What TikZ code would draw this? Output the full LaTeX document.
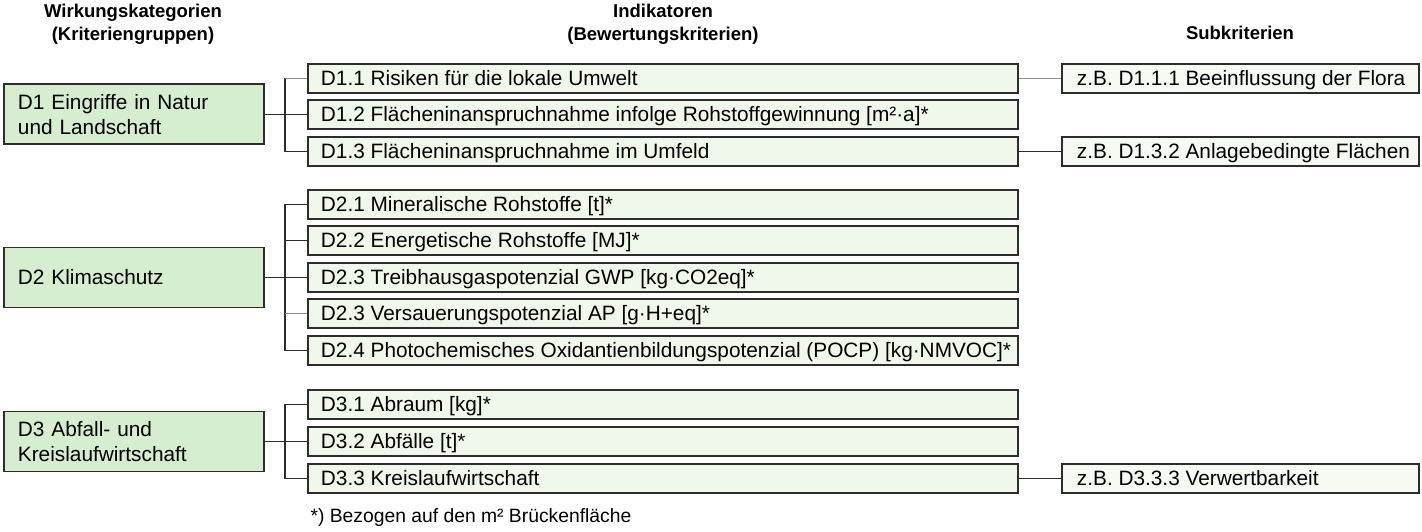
\documentclass[tikz,border=0pt]{standalone}
\usepackage{fontspec}
\setmainfont{Liberation Sans}
\definecolor{catfill}{RGB}{214,237,207}
\definecolor{indfill}{RGB}{239,248,235}
\definecolor{subfill}{RGB}{245,250,242}
\definecolor{boxline}{RGB}{45,45,45}
\begin{document}
\begin{tikzpicture}[x=1pt, y=-1pt]
    \tikzstyle{every node}=[inner ysep=0pt, font=\fontsize{20.8}{24.5}\selectfont]
    \tikzstyle{kopf}=[align=center, font=\bfseries\fontsize{18.5}{23}\selectfont]
    \tikzstyle{kategorie}=[anchor=north west, align=left, text width=232pt,
				inner xsep=14pt, minimum height=60pt,
				% The border:
				draw=boxline, line width=1.9pt,
				% The filling:
				fill=catfill]
    \tikzstyle{indikator}=[anchor=north west, inner xsep=13pt, minimum height=29pt,
				text height=14.9pt, text depth=0pt,
				execute at begin node={\hbox to 684pt\bgroup},
				execute at end node={\hss\egroup},
				draw=boxline, line width=1.9pt, fill=indfill]
    \tikzstyle{subkriterium}=[anchor=north west, inner xsep=15pt, minimum height=29pt,
				text height=14.9pt, text depth=0pt,
				execute at begin node={\hbox to 327pt\bgroup},
				execute at end node={\hss\egroup},
				draw=boxline, line width=1.9pt, fill=subfill]
    \tikzstyle{verbindung}=[draw=boxline, line width=1.5pt]
    \tikzstyle{verbindung hell}=[draw=black!45, line width=1.2pt]
    \useasboundingbox (0,0) rectangle (1422,532);
    \node[kopf] (k1) at (133,24) {Wirkungskategorien\\(Kriteriengruppen)};
    \node[kopf] (k2) at (663,24) {Indikatoren\\(Bewertungskriterien)};
    \node[kopf] (k3) at (1240,33) {Subkriterien};
    \coordinate (bus) at (285,0);
    % D1
    \node[kategorie] (d1) at (3,83.5) {D1 Eingriffe in Natur\\und Landschaft};
    \node[indikator] (d11) at (307,63) {D1.1 Risiken für die lokale Umwelt};
    \node[indikator] (d12) at (307,99) {D1.2 Flächeninanspruchnahme infolge Rohstoffgewinnung [m²·a]*};
    \node[indikator] (d13) at (307,136) {D1.3 Flächeninanspruchnahme im Umfeld};
    \node[subkriterium] (s111) at (1061,63) {z.B. D1.1.1 Beeinflussung der Flora};
    \node[subkriterium] (s132) at (1061,136) {z.B. D1.3.2 Anlagebedingte Flächen};
    % D2
    \node[kategorie] (d2) at (3,246.5) {D2 Klimaschutz};
    \node[indikator] (d21) at (307,189) {D2.1 Mineralische Rohstoffe [t]*};
    \node[indikator] (d22) at (307,225) {D2.2 Energetische Rohstoffe [MJ]*};
    \node[indikator] (d23) at (307,262) {D2.3 Treibhausgaspotenzial GWP [kg·CO2eq]*};
    \node[indikator] (d24) at (307,298) {D2.3 Versauerungspotenzial AP [g·H+eq]*};
    \node[indikator] (d25) at (307,335) {D2.4 Photochemisches Oxidantienbildungspotenzial (POCP) [kg·NMVOC]*};
    % D3
    \node[kategorie] (d3) at (3,410.5) {D3 Abfall- und\\Kreislaufwirtschaft};
    \node[indikator] (d31) at (307,389) {D3.1 Abraum [kg]*};
    \node[indikator] (d32) at (307,426) {D3.2 Abfälle [t]*};
    \node[indikator] (d33) at (307,463) {D3.3 Kreislaufwirtschaft};
    \node[subkriterium] (s333) at (1061,463) {z.B. D3.3.3 Verwertbarkeit};
    \node[anchor=west, font=\fontsize{19.3}{22}\selectfont] (fussnote) at (307,518) {*) Bezogen auf den m² Brückenfläche};
    % connectors
    \draw[verbindung] (d1.east) -- (d12.west);
    \draw[verbindung] (bus |- d11.west) |- (d13.west);
    \draw[verbindung hell] (bus |- d11.west) -- (d11.west);
    \draw[verbindung hell] (d11.east) -- (s111.west);
    \draw[verbindung] (d13.east) -- (s132.west);
    \draw[verbindung] (d21.west) -- (bus |- d21.west) |- (d25.west);
    \draw[verbindung] (bus |- d22.west) -- (d22.west);
    \draw[verbindung] (d2.east) -- (d23.west);
    \draw[verbindung hell] (bus |- d24.west) -- (d24.west);
    \draw[verbindung] (d31.west) -- (bus |- d31.west) |- (d33.west);
    \draw[verbindung] (d3.east) -- (d32.west);
    \draw[verbindung] (d33.east) -- (s333.west);
\end{tikzpicture}
\end{document}
